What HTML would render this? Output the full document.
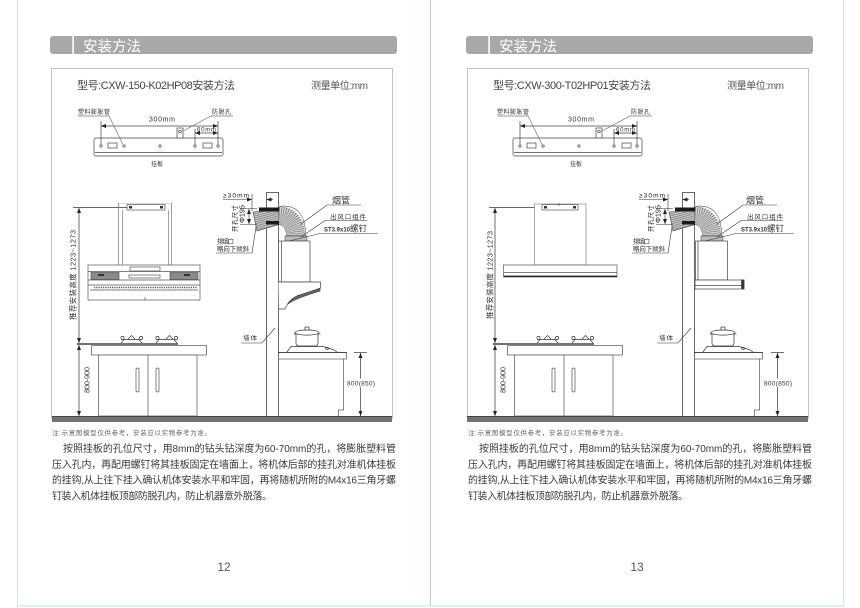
<!DOCTYPE html>
<html><head><meta charset="utf-8">
<style>
html,body{margin:0;padding:0;background:#fff;}
svg{display:block;}
text{font-family:"Liberation Sans","Noto Sans CJK SC",sans-serif;}
</style></head><body>
<svg width="860" height="608" viewBox="0 0 860 608" xmlns="http://www.w3.org/2000/svg">
<defs>
<marker id="ar" markerUnits="userSpaceOnUse" markerWidth="5" markerHeight="4" refX="5" refY="2" orient="auto-start-reverse"><path d="M0,0 L5,2 L0,4z" fill="#222"/></marker>
<pattern id="hatch" width="2" height="2" patternUnits="userSpaceOnUse" patternTransform="rotate(75)"><rect width="2" height="2" fill="#d0d0d0"/><line x1="0.5" y1="0" x2="0.5" y2="2" stroke="#777" stroke-width="0.8"/></pattern>
</defs>

<!-- page borders -->
<line x1="17.5" y1="0" x2="17.5" y2="606" stroke="#cfe6ee" stroke-width="1.2"/>
<line x1="843.5" y1="0" x2="843.5" y2="606" stroke="#cfe6ee" stroke-width="1.2"/>
<line x1="17" y1="606" x2="844" y2="606" stroke="#cfe6ee" stroke-width="1.2"/>
<line x1="430.5" y1="0" x2="430.5" y2="606" stroke="#a9cfe0" stroke-width="1"/>

<!-- ================= LEFT PAGE ================= -->
<g id="left">
<path d="M53,36 H394 a3,3 0 0 1 3,3 V51 a3,3 0 0 1 -3,3 H53 a3,3 0 0 1 -3,-3 V39 a3,3 0 0 1 3,-3z" fill="#a8a8a8"/>
<rect x="72.3" y="36" width="1.6" height="18" fill="#fff"/>
<text x="83" y="51.5" font-size="14.5" fill="#fff" textLength="58">安装方法</text>

<rect x="51.5" y="68.5" width="341" height="350" fill="none" stroke="#c4c4c4" stroke-width="1"/>
<text x="77" y="89" font-size="11" fill="#444" textLength="158">型号:CXW-150-K02HP08安装方法</text>
<text x="311" y="89" font-size="10" fill="#555" textLength="57">测量单位:mm</text>

<g>
<g stroke="#444" stroke-width="0.7" fill="none">
<rect x="94" y="138" width="129" height="18" rx="2" fill="#fff"/>
<line x1="95" y1="152.5" x2="222" y2="152.5"/>
<circle cx="101" cy="146" r="1.2"/><circle cx="124" cy="146" r="1.2"/><circle cx="160" cy="146" r="1.2"/><circle cx="195" cy="146" r="1.2"/><circle cx="218" cy="146" r="1.2"/>
<rect x="108" y="143" width="9" height="5"/>
<rect x="203" y="143" width="9" height="5"/>
<rect x="177" y="128" width="6" height="10" fill="#fff"/>
<circle cx="180" cy="131.5" r="1.3"/>
<line x1="101" y1="121" x2="101" y2="144.5"/>
<line x1="218" y1="121" x2="218" y2="144.5"/>
<line x1="101" y1="126" x2="218" y2="126" marker-start="url(#ar)" marker-end="url(#ar)"/>
<line x1="195" y1="129" x2="195" y2="144.5"/>
<line x1="195" y1="133" x2="218" y2="133" marker-start="url(#ar)" marker-end="url(#ar)"/>
<polyline points="78,116 109,116 123,144.5" stroke="#777"/>
<polyline points="233,116 211,116 183,131" stroke="#777"/>
</g>
<text x="78" y="114" font-size="6" fill="#333" textLength="32">塑料膨胀管</text>
<text x="212" y="114" font-size="6" fill="#333" textLength="19">防脱孔</text>
<text x="149" y="121.5" font-size="7" fill="#333" textLength="26">300mm</text>
<text x="197" y="131.5" font-size="6" fill="#333" textLength="19">60mm</text>
<text x="151" y="166" font-size="6" fill="#333" textLength="12">挂板</text>
</g>

<g stroke="#333" stroke-width="0.7" fill="none">
<line x1="73" y1="207.5" x2="127" y2="207.5"/>
<line x1="79" y1="208" x2="79" y2="343" marker-start="url(#ar)" marker-end="url(#ar)"/>
<line x1="79" y1="345" x2="79" y2="416" marker-start="url(#ar)" marker-end="url(#ar)"/>
</g>
<text transform="translate(75.5,275) rotate(-90)" text-anchor="middle" font-size="7.5" fill="#333" textLength="90">推荐安装高度 1223~1273</text>
<text transform="translate(89.5,380) rotate(-90)" text-anchor="middle" font-size="7.5" fill="#333" textLength="26">800-900</text>

<g stroke="#777" stroke-width="0.7" fill="none">
<line x1="118" y1="203.5" x2="172" y2="203.5" stroke="#ccc"/>
<line x1="118.5" y1="203" x2="118.5" y2="265"/>
<line x1="122.5" y1="210" x2="122.5" y2="265"/>
<line x1="168.5" y1="210" x2="168.5" y2="265"/>
<line x1="171.5" y1="203" x2="171.5" y2="265"/>
<rect x="127" y="204.5" width="38" height="5.5" fill="#fff" stroke="#555"/>
<rect x="129" y="206" width="3" height="2.5" fill="#333" stroke="none"/>
<rect x="160" y="206" width="3" height="2.5" fill="#333" stroke="none"/>
<rect x="88" y="265" width="112" height="35" fill="#fff" stroke="#555"/>
<line x1="88" y1="271.5" x2="200" y2="271.5" stroke="#555"/>
<rect x="91" y="272.5" width="28" height="7" fill="#8a8a8a" stroke="#555"/>
<rect x="170" y="272.5" width="28" height="7" fill="#8a8a8a" stroke="#555"/>
<rect x="98" y="274" width="6" height="2" fill="#333" stroke="none"/>
<rect x="184" y="274" width="6" height="2" fill="#333" stroke="none"/>
<rect x="130" y="267" width="30" height="4" stroke="#555"/>
<rect x="129" y="275" width="31" height="3" stroke="#555"/>
<line x1="88" y1="280" x2="200" y2="280" stroke="#555"/>
<line x1="88" y1="285" x2="200" y2="285" stroke="#555"/>
<line x1="94" y1="287.5" x2="197" y2="287.5" stroke="#333" stroke-width="1.6" stroke-dasharray="0.8 1"/>
<line x1="90" y1="290" x2="198" y2="290" stroke="#555"/>
<line x1="145" y1="297" x2="145" y2="300" stroke="#555"/>
</g>

<rect x="266.5" y="192.5" width="12" height="224" fill="#fff" stroke="#444" stroke-width="0.8"/>
<polygon points="253,212 279,209.5 279,224.5 257,231" fill="url(#hatch)" stroke="#444" stroke-width="0.6"/>
<rect x="259" y="207.5" width="20" height="4" fill="#1a1a1a"/>
<rect x="266" y="221" width="13" height="3.5" fill="#1a1a1a"/>
<path d="M279,215.5 C290,215.5 296,224 296,236" fill="none" stroke="#d6d6d6" stroke-width="18"/>
<path d="M279,215.5 C290,215.5 296,224 296,236" fill="none" stroke="#777" stroke-width="18" stroke-dasharray="0.6 1.1"/>
<path d="M279,206.5 C294,204 306,212 305.5,236 M279,224.5 C284,225 286.5,230 286.5,236" fill="none" stroke="#555" stroke-width="0.6"/>
<rect x="285" y="236" width="22" height="5" fill="#bbb" stroke="#555" stroke-width="0.6"/>

<g stroke="#444" stroke-width="0.7">
<rect x="278.5" y="241" width="31.5" height="41" fill="#fff"/>
<line x1="281.5" y1="241" x2="281.5" y2="282"/>
<path d="M278.5,282 H320.5 V288 L298,296 Q290,299 287,305 L285,309 H279" fill="#fff"/>
<path d="M320,288.5 L298,295.5 Q291,298.5 288,304 L291,302 Q297,298 320,291z" fill="#666"/>
</g>

<g stroke="#333" stroke-width="0.6" fill="none">
<line x1="223" y1="199.5" x2="252" y2="199.5" marker-end="url(#ar)"/>
<line x1="273" y1="199.5" x2="266.5" y2="199.5" marker-end="url(#ar)"/>
<line x1="252" y1="194" x2="252" y2="211"/>
<line x1="240" y1="208.5" x2="257" y2="208.5"/>
<line x1="240" y1="224.5" x2="257" y2="224.5"/>
<line x1="249" y1="209" x2="249" y2="224" marker-start="url(#ar)" marker-end="url(#ar)"/>
<polyline points="216,253 252,253 256,227"/>
<polyline points="361,205 327,205 301,224"/>
<polyline points="367,220.5 325,220.5 301,237"/>
<polyline points="378,233.5 320,233.5 289,241"/>
<polyline points="241,343 262,343 275,328"/>
</g>
<text x="223" y="197.5" font-size="6.5" fill="#222" textLength="26">≥30mm</text>
<text transform="translate(237,218.5) rotate(-90)" text-anchor="middle" font-size="6.5" fill="#222" textLength="27">开孔尺寸</text>
<text transform="translate(244.5,214) rotate(-90)" text-anchor="middle" font-size="7.5" fill="#222" textLength="18">Φ195</text>
<text x="217" y="243.5" font-size="6.5" fill="#333" textLength="17">排烟口</text>
<text x="217" y="251" font-size="6.5" fill="#333" textLength="32">略向下倾斜</text>
<text x="332" y="203.5" font-size="9" fill="#333">烟管</text>
<text x="330" y="219" font-size="6.5" fill="#333" textLength="36">出风口组件</text>
<text x="324" y="231.5" font-size="6" fill="#333" font-weight="bold">ST3.9x10<tspan font-size="8.5" font-weight="normal">螺钉</tspan></text>
<text x="243" y="340" font-size="6.5" fill="#333" textLength="14">墙体</text>

<g stroke="#555" stroke-width="0.7" fill="none">
<rect x="91.5" y="345.5" width="115" height="9.5" fill="#fff"/>
<rect x="98.5" y="355" width="98.5" height="61" fill="#fff"/>
<line x1="148" y1="355" x2="148" y2="416"/>
<rect x="136" y="368" width="3" height="24" rx="1.5"/>
<rect x="156" y="368" width="3" height="24" rx="1.5"/>
<line x1="77" y1="344" x2="178" y2="344" stroke="#222" stroke-width="1.3"/>
<path d="M121,343 L124,339.5 H139 L142,343" stroke="#333"/>
<path d="M156,343 L159,339.5 H174 L177,343" stroke="#333"/>
<path d="M128,339 L131.5,335.5 L135,339 M166,339 L169.5,335.5 L173,339" stroke="#333"/>
<circle cx="122.5" cy="338" r="1.6" stroke="#333"/><circle cx="141" cy="338" r="1.6" stroke="#333"/>
<circle cx="157.5" cy="338" r="1.6" stroke="#333"/><circle cx="176" cy="338" r="1.6" stroke="#333"/>
</g>

<g stroke="#555" stroke-width="0.7" fill="none">
<rect x="278.5" y="352.5" width="68" height="6.5" fill="#fff"/>
<line x1="278" y1="352.5" x2="347" y2="352.5" stroke="#333"/>
<path d="M343.5,359 V410 H338.5 V416"/>
<path d="M287,352 L291,346.5 H323 L333,349.5 L337,352" fill="#fff" stroke="#333"/>
<circle cx="327" cy="348.5" r="1.3" stroke="#333"/>
<path d="M296,333 V343 Q296,346 299,346 H315 Q318,346 318,343 V333" fill="#fff" stroke="#333"/>
<ellipse cx="307" cy="332.5" rx="12" ry="2.6" fill="#fff" stroke="#333"/>
<rect x="305" y="327" width="4" height="3" fill="#fff" stroke="#333"/>
<line x1="293.5" y1="334" x2="296" y2="334" stroke="#333"/>
<line x1="318" y1="334" x2="320.5" y2="334" stroke="#333"/>
<line x1="354" y1="352.5" x2="367" y2="352.5" stroke="#333"/>
<line x1="360.5" y1="353" x2="360.5" y2="416" stroke="#333" marker-start="url(#ar)" marker-end="url(#ar)"/>
</g>
<rect x="346" y="378.5" width="30" height="9" fill="#fff"/>
<text x="347" y="385.5" font-size="6.5" fill="#333" textLength="28">800(850)</text>

<rect x="52" y="416" width="340" height="6" fill="#727272"/>
<line x1="52" y1="416.5" x2="392" y2="416.5" stroke="#444" stroke-width="1"/>

<text x="52" y="435" font-size="6.5" fill="#666" textLength="159">注:示意图模型仅供参考，安装应以实物参考为准。</text>
<g font-size="10" fill="#3a3a3a">
<text x="63" y="452" textLength="333">按照挂板的孔位尺寸，用8mm的钻头钻深度为60-70mm的孔，将膨胀塑料管</text>
<text x="52" y="468" textLength="344">压入孔内，再配用螺钉将其挂板固定在墙面上，将机体后部的挂孔对准机体挂板</text>
<text x="52" y="483.5" textLength="344">的挂钩,从上往下挂入确认机体安装水平和牢固，再将随机所附的M4x16三角牙螺</text>
<text x="52" y="499.5" textLength="220">钉装入机体挂板顶部防脱孔内，防止机器意外脱落。</text>
</g>
</g>

<!-- ================= RIGHT PAGE ================= -->
<g transform="translate(416,0)">
<path d="M53,36 H394 a3,3 0 0 1 3,3 V51 a3,3 0 0 1 -3,3 H53 a3,3 0 0 1 -3,-3 V39 a3,3 0 0 1 3,-3z" fill="#a8a8a8"/>
<rect x="72.3" y="36" width="1.6" height="18" fill="#fff"/>
<text x="83" y="51.5" font-size="14.5" fill="#fff" textLength="58">安装方法</text>

<rect x="51.5" y="68.5" width="341" height="350" fill="none" stroke="#c4c4c4" stroke-width="1"/>
<text x="77" y="89" font-size="11" fill="#444" textLength="158">型号:CXW-300-T02HP01安装方法</text>
<text x="311" y="89" font-size="10" fill="#555" textLength="57">测量单位:mm</text>

<g transform="translate(3,0)">
<g stroke="#444" stroke-width="0.7" fill="none">
<rect x="94" y="138" width="129" height="18" rx="2" fill="#fff"/>
<line x1="95" y1="152.5" x2="222" y2="152.5"/>
<circle cx="101" cy="146" r="1.2"/><circle cx="124" cy="146" r="1.2"/><circle cx="160" cy="146" r="1.2"/><circle cx="195" cy="146" r="1.2"/><circle cx="218" cy="146" r="1.2"/>
<rect x="108" y="143" width="9" height="5"/>
<rect x="203" y="143" width="9" height="5"/>
<rect x="177" y="128" width="6" height="10" fill="#fff"/>
<circle cx="180" cy="131.5" r="1.3"/>
<line x1="101" y1="121" x2="101" y2="144.5"/>
<line x1="218" y1="121" x2="218" y2="144.5"/>
<line x1="101" y1="126" x2="218" y2="126" marker-start="url(#ar)" marker-end="url(#ar)"/>
<line x1="195" y1="129" x2="195" y2="144.5"/>
<line x1="195" y1="133" x2="218" y2="133" marker-start="url(#ar)" marker-end="url(#ar)"/>
<polyline points="78,116 109,116 123,144.5" stroke="#777"/>
<polyline points="233,116 211,116 183,131" stroke="#777"/>
</g>
<text x="78" y="114" font-size="6" fill="#333" textLength="32">塑料膨胀管</text>
<text x="212" y="114" font-size="6" fill="#333" textLength="19">防脱孔</text>
<text x="149" y="121.5" font-size="7" fill="#333" textLength="26">300mm</text>
<text x="197" y="131.5" font-size="6" fill="#333" textLength="19">60mm</text>
<text x="151" y="166" font-size="6" fill="#333" textLength="12">挂板</text>
</g>

<g stroke="#333" stroke-width="0.7" fill="none">
<line x1="73" y1="207.5" x2="126" y2="207.5"/>
<line x1="79" y1="208" x2="79" y2="343" marker-start="url(#ar)" marker-end="url(#ar)"/>
<line x1="79" y1="345" x2="79" y2="416" marker-start="url(#ar)" marker-end="url(#ar)"/>
</g>
<text transform="translate(76.5,275) rotate(-90)" text-anchor="middle" font-size="7.5" fill="#333" textLength="88">推荐安装高度 1223~1273</text>
<text transform="translate(89.5,380) rotate(-90)" text-anchor="middle" font-size="7.5" fill="#333" textLength="26">800-900</text>

<g stroke="#666" stroke-width="0.7" fill="none">
<rect x="118.5" y="204" width="51.5" height="61" fill="#fff" stroke="#888"/>
<rect x="126" y="204.5" width="36" height="5.5" fill="#fff" stroke="#555"/>
<rect x="128" y="206" width="3" height="2.5" fill="#333" stroke="none"/>
<rect x="157" y="206" width="3" height="2.5" fill="#333" stroke="none"/>
<line x1="143" y1="203" x2="143" y2="206" stroke="#555"/>
<rect x="87.5" y="265" width="113.5" height="12" fill="#fff" stroke="#555"/>
<line x1="88" y1="272.5" x2="201" y2="272.5" stroke="#555"/>
<line x1="88" y1="276.3" x2="201" y2="276.3" stroke="#222" stroke-width="1.4"/>
</g>

<rect x="266.5" y="192.5" width="12" height="224" fill="#fff" stroke="#444" stroke-width="0.8"/>
<polygon points="253,212 279,209.5 279,224.5 257,231" fill="url(#hatch)" stroke="#444" stroke-width="0.6"/>
<rect x="259" y="207.5" width="20" height="4" fill="#1a1a1a"/>
<rect x="266" y="221" width="13" height="3.5" fill="#1a1a1a"/>
<path d="M279,215.5 C290,215.5 296,224 296,236" fill="none" stroke="#d6d6d6" stroke-width="18"/>
<path d="M279,215.5 C290,215.5 296,224 296,236" fill="none" stroke="#777" stroke-width="18" stroke-dasharray="0.6 1.1"/>
<path d="M279,206.5 C294,204 306,212 305.5,236 M279,224.5 C284,225 286.5,230 286.5,236" fill="none" stroke="#555" stroke-width="0.6"/>
<rect x="285" y="236" width="22" height="5" fill="#bbb" stroke="#555" stroke-width="0.6"/>

<g stroke="#444" stroke-width="0.7">
<rect x="279.5" y="241" width="32" height="39" fill="#fff"/>
<line x1="282" y1="241" x2="282" y2="280"/>
<rect x="279" y="280" width="49" height="9" fill="#fff"/>
<line x1="279" y1="285.5" x2="326" y2="285.5"/>
<rect x="325.5" y="280" width="2.5" height="9" fill="#333"/>
</g>

<g stroke="#333" stroke-width="0.6" fill="none">
<line x1="223" y1="199.5" x2="252" y2="199.5" marker-end="url(#ar)"/>
<line x1="273" y1="199.5" x2="266.5" y2="199.5" marker-end="url(#ar)"/>
<line x1="252" y1="194" x2="252" y2="211"/>
<line x1="240" y1="208.5" x2="257" y2="208.5"/>
<line x1="240" y1="224.5" x2="257" y2="224.5"/>
<line x1="249" y1="209" x2="249" y2="224" marker-start="url(#ar)" marker-end="url(#ar)"/>
<polyline points="216,253 252,253 256,227"/>
<polyline points="361,205 327,205 301,224"/>
<polyline points="367,220.5 325,220.5 301,237"/>
<polyline points="378,233.5 320,233.5 289,241"/>
<polyline points="241,343 262,343 275,328"/>
</g>
<text x="223" y="197.5" font-size="6.5" fill="#222" textLength="26">≥30mm</text>
<text transform="translate(237,218.5) rotate(-90)" text-anchor="middle" font-size="6.5" fill="#222" textLength="27">开孔尺寸</text>
<text transform="translate(244.5,214) rotate(-90)" text-anchor="middle" font-size="7.5" fill="#222" textLength="18">Φ195</text>
<text x="217" y="243.5" font-size="6.5" fill="#333" textLength="17">排烟口</text>
<text x="217" y="251" font-size="6.5" fill="#333" textLength="32">略向下倾斜</text>
<text x="330" y="203.5" font-size="9" fill="#333">烟管</text>
<text x="331" y="219" font-size="6.5" fill="#333" textLength="36">出风口组件</text>
<text x="325" y="231.5" font-size="6" fill="#333" font-weight="bold">ST3.9x10<tspan font-size="8.5" font-weight="normal">螺钉</tspan></text>
<text x="243" y="340" font-size="6.5" fill="#333" textLength="14">墙体</text>

<g stroke="#555" stroke-width="0.7" fill="none">
<rect x="91.5" y="345.5" width="115" height="9.5" fill="#fff"/>
<rect x="98.5" y="355" width="98.5" height="61" fill="#fff"/>
<line x1="148" y1="355" x2="148" y2="416"/>
<rect x="136" y="368" width="3" height="24" rx="1.5"/>
<rect x="156" y="368" width="3" height="24" rx="1.5"/>
<line x1="77" y1="344" x2="178" y2="344" stroke="#222" stroke-width="1.3"/>
<path d="M121,343 L124,339.5 H139 L142,343" stroke="#333"/>
<path d="M156,343 L159,339.5 H174 L177,343" stroke="#333"/>
<path d="M128,339 L131.5,335.5 L135,339 M166,339 L169.5,335.5 L173,339" stroke="#333"/>
<circle cx="122.5" cy="338" r="1.6" stroke="#333"/><circle cx="141" cy="338" r="1.6" stroke="#333"/>
<circle cx="157.5" cy="338" r="1.6" stroke="#333"/><circle cx="176" cy="338" r="1.6" stroke="#333"/>
</g>

<g stroke="#555" stroke-width="0.7" fill="none">
<rect x="278.5" y="352.5" width="68" height="6.5" fill="#fff"/>
<line x1="278" y1="352.5" x2="347" y2="352.5" stroke="#333"/>
<path d="M343.5,359 V410 H338.5 V416"/>
<path d="M287,352 L291,346.5 H323 L333,349.5 L337,352" fill="#fff" stroke="#333"/>
<circle cx="327" cy="348.5" r="1.3" stroke="#333"/>
<path d="M296,333 V343 Q296,346 299,346 H315 Q318,346 318,343 V333" fill="#fff" stroke="#333"/>
<ellipse cx="307" cy="332.5" rx="12" ry="2.6" fill="#fff" stroke="#333"/>
<rect x="305" y="327" width="4" height="3" fill="#fff" stroke="#333"/>
<line x1="293.5" y1="334" x2="296" y2="334" stroke="#333"/>
<line x1="318" y1="334" x2="320.5" y2="334" stroke="#333"/>
<line x1="355" y1="352.5" x2="368" y2="352.5" stroke="#333"/>
<line x1="361.5" y1="353" x2="361.5" y2="416" stroke="#333" marker-start="url(#ar)" marker-end="url(#ar)"/>
</g>
<rect x="347" y="378.5" width="30" height="9" fill="#fff"/>
<text x="348" y="385.5" font-size="6.5" fill="#333" textLength="28">800(850)</text>

<rect x="51" y="416" width="341" height="6" fill="#727272"/>
<line x1="51" y1="416.5" x2="392" y2="416.5" stroke="#444" stroke-width="1"/>

<text x="52" y="435" font-size="6.5" fill="#666" textLength="159">注:示意图模型仅供参考，安装应以实物参考为准。</text>
<g font-size="10" fill="#3a3a3a">
<text x="63" y="452" textLength="333">按照挂板的孔位尺寸，用8mm的钻头钻深度为60-70mm的孔，将膨胀塑料管</text>
<text x="52" y="468" textLength="344">压入孔内，再配用螺钉将其挂板固定在墙面上，将机体后部的挂孔对准机体挂板</text>
<text x="52" y="483.5" textLength="344">的挂钩,从上往下挂入确认机体安装水平和牢固，再将随机所附的M4x16三角牙螺</text>
<text x="52" y="499.5" textLength="220">钉装入机体挂板顶部防脱孔内，防止机器意外脱落。</text>
</g>
</g>

<text x="224" y="571" font-size="12" fill="#555" text-anchor="middle">12</text>
<text x="637" y="571" font-size="12" fill="#555" text-anchor="middle">13</text>
</svg>
</body></html>
